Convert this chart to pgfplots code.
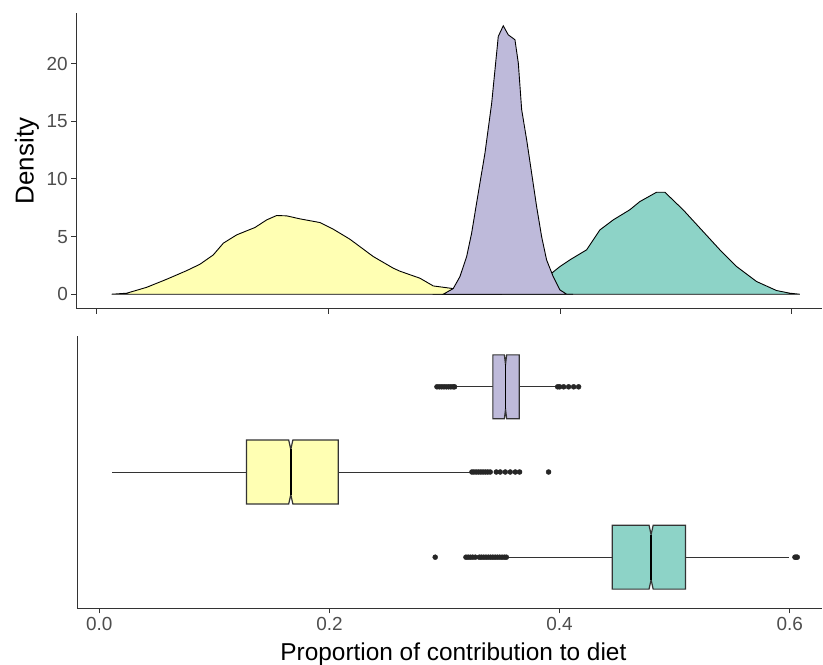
\documentclass[border=0pt]{standalone}
\usepackage{pgfplots}
\pgfplotsset{compat=1.18}
\usepackage{fontspec}
\setmainfont{Liberation Sans}
\definecolor{cyel}{HTML}{FFFFB3}
\definecolor{cpur}{HTML}{BEBADA}
\definecolor{cgrn}{HTML}{8DD3C7}
\definecolor{gray20}{HTML}{333333}
\definecolor{gray30}{HTML}{4D4D4D}
\pgfplotsset{
  base/.style={
    scale only axis,
    axis x line*=bottom, axis y line*=left,
    axis line style={gray20, line width=1bp},
    tick style={gray20, line width=1bp},
    tick align=outside, major tick length=5bp,
    ticklabel style={font=\fontsize{19}{22}\selectfont, text=gray30},
    /pgf/number format/assume math mode=true,
    enlargelimits=false,
  }
}
\begin{document}
\begin{tikzpicture}
\path[use as bounding box] (0,0) rectangle (823bp,665bp);
% ---------------- top: densities
\begin{axis}[base,
  at={(76.3bp,356bp)}, anchor=south west,
  width=745.7bp, height=296bp,
  xmin=-0.0176, xmax=0.626, ymin=-1.28, ymax=24.4,
  xtick={0,0.2,0.4,0.6}, xticklabels={},
  ytick={0,5,10,15,20},
  ylabel={Density},
  every axis y label/.style={at={(axis description cs:-0.0661,0.5)}, rotate=90, anchor=center, font=\fontsize{26}{30}\selectfont},
]
% green
\addplot[fill=cgrn, draw=black, line width=0.9bp] coordinates {
(0.29,0) (0.30,0.08) (0.32,0.35) (0.34,0.75) (0.36,1.1) (0.38,1.45) (0.3926,1.82)
(0.3998,2.4) (0.4084,2.98) (0.4228,3.85) (0.4343,5.58) (0.4458,6.45) (0.46,7.32)
(0.4688,8.04) (0.4832,8.85) (0.4904,8.85) (0.5062,7.32) (0.5221,5.58) (0.5379,3.85)
(0.5523,2.4) (0.5696,1.1) (0.5868,0.32) (0.5983,0.09) (0.6069,0)
} -- cycle;
% yellow
\addplot[fill=cyel, draw=black, line width=0.9bp] coordinates {
(0.0129,0) (0.0259,0.09) (0.0431,0.6) (0.0604,1.3) (0.0777,2.05) (0.0891,2.6)
(0.1006,3.41) (0.1093,4.43) (0.1208,5.15) (0.1366,5.79) (0.1467,6.45) (0.1553,6.83)
(0.164,6.8) (0.1754,6.54) (0.1927,6.22) (0.2042,5.64) (0.2186,4.77) (0.2387,3.27)
(0.256,2.26) (0.2617,2.0) (0.279,1.39) (0.2905,0.72) (0.3077,0.49) (0.32,0.25)
(0.335,0.08) (0.35,0)
} -- cycle;
% purple
\addplot[fill=cpur, draw=black, line width=0.9bp] coordinates {
(0.2991,0) (0.3077,0.49) (0.3135,1.53) (0.3193,3.27) (0.3236,5.3) (0.3293,8.77)
(0.3351,12.24) (0.3409,16.58) (0.3466,22.37) (0.3509,23.29) (0.3552,22.51)
(0.361,22.08) (0.3639,20.05) (0.3668,16.0) (0.3711,13.4) (0.3754,10.5)
(0.3797,7.6) (0.384,5.0) (0.3883,2.98) (0.394,1.53) (0.3998,0.38) (0.4056,0) (0.4113,0)
} -- cycle;
\end{axis}
% ---------------- bottom: notched boxplots
\begin{axis}[base,
  at={(77.3bp,56.7bp)}, anchor=south west,
  width=744.7bp, height=272.6bp,
  xmin=-0.0191, xmax=0.628, ymin=0.4, ymax=3.6,
  xtick={0,0.2,0.4,0.6},
  xticklabel style={/pgf/number format/.cd, fixed, fixed zerofill, precision=1},
  ytick=\empty,
  xlabel={Proportion of contribution to diet},
  every axis x label/.style={at={(axis description cs:0.505,-0.1897)}, anchor=base, font=\fontsize{24.5}{28}\selectfont},
]
% whiskers
\addplot[gray20, line width=1bp] coordinates {(0.3087,3) (0.342,3)};
\addplot[gray20, line width=1bp] coordinates {(0.365,3) (0.3983,3)};
\addplot[gray20, line width=1bp] coordinates {(0.0113,2) (0.128,2)};
\addplot[gray20, line width=1bp] coordinates {(0.2076,2) (0.3238,2)};
\addplot[gray20, line width=1bp] coordinates {(0.3537,1) (0.4458,1)};
\addplot[gray20, line width=1bp] coordinates {(0.5093,1) (0.5991,1)};
% boxes (notched)
\addplot[fill=cpur, draw=gray20, line width=1.2bp] coordinates {
(0.342,2.625) (0.342,3.375) (0.352,3.375) (0.353,3.265) (0.354,3.375) (0.365,3.375)
(0.365,2.625) (0.354,2.625) (0.353,2.735) (0.352,2.625)} -- cycle;
\addplot[fill=cyel, draw=gray20, line width=1.2bp] coordinates {
(0.128,1.625) (0.128,2.375) (0.1646,2.375) (0.1664,2.265) (0.1682,2.375) (0.2076,2.375)
(0.2076,1.625) (0.1682,1.625) (0.1664,1.735) (0.1646,1.625)} -- cycle;
\addplot[fill=cgrn, draw=gray20, line width=1.2bp] coordinates {
(0.4458,0.625) (0.4458,1.375) (0.4777,1.375) (0.4795,1.265) (0.4813,1.375) (0.5093,1.375)
(0.5093,0.625) (0.4813,0.625) (0.4795,0.735) (0.4777,0.625)} -- cycle;
% medians
\addplot[black, line width=1.8bp] coordinates {(0.353,2.735) (0.353,3.265)};
\addplot[black, line width=1.8bp] coordinates {(0.1664,1.735) (0.1664,2.265)};
\addplot[black, line width=1.8bp] coordinates {(0.4795,0.735) (0.4795,1.265)};
% outliers
\addplot[only marks, mark=*, mark size=2.5bp, black!85] coordinates {
(0.2934,3) (0.2955,3) (0.2975,3) (0.2995,3) (0.3015,3) (0.3035,3) (0.3055,3) (0.3075,3) (0.3087,3)
(0.3983,3) (0.4000,3) (0.4035,3) (0.4078,3) (0.4122,3) (0.4165,3)
(0.3238,2) (0.3255,2) (0.3275,2) (0.3295,2) (0.3315,2) (0.3335,2) (0.3355,2) (0.3375,2) (0.3397,2)
(0.345,2) (0.3484,2) (0.3528,2) (0.3571,2) (0.3615,2) (0.3652,2) (0.3904,2)
(0.2919,1) (0.3186,1) (0.3205,1) (0.3225,1) (0.3245,1) (0.3267,1)
(0.3302,1) (0.332,1) (0.334,1) (0.336,1) (0.338,1) (0.340,1) (0.342,1) (0.344,1)
(0.346,1) (0.348,1) (0.350,1) (0.352,1) (0.3537,1)
(0.6045,1) (0.6055,1) (0.6065,1)
};
\end{axis}
\end{tikzpicture}
\end{document}
